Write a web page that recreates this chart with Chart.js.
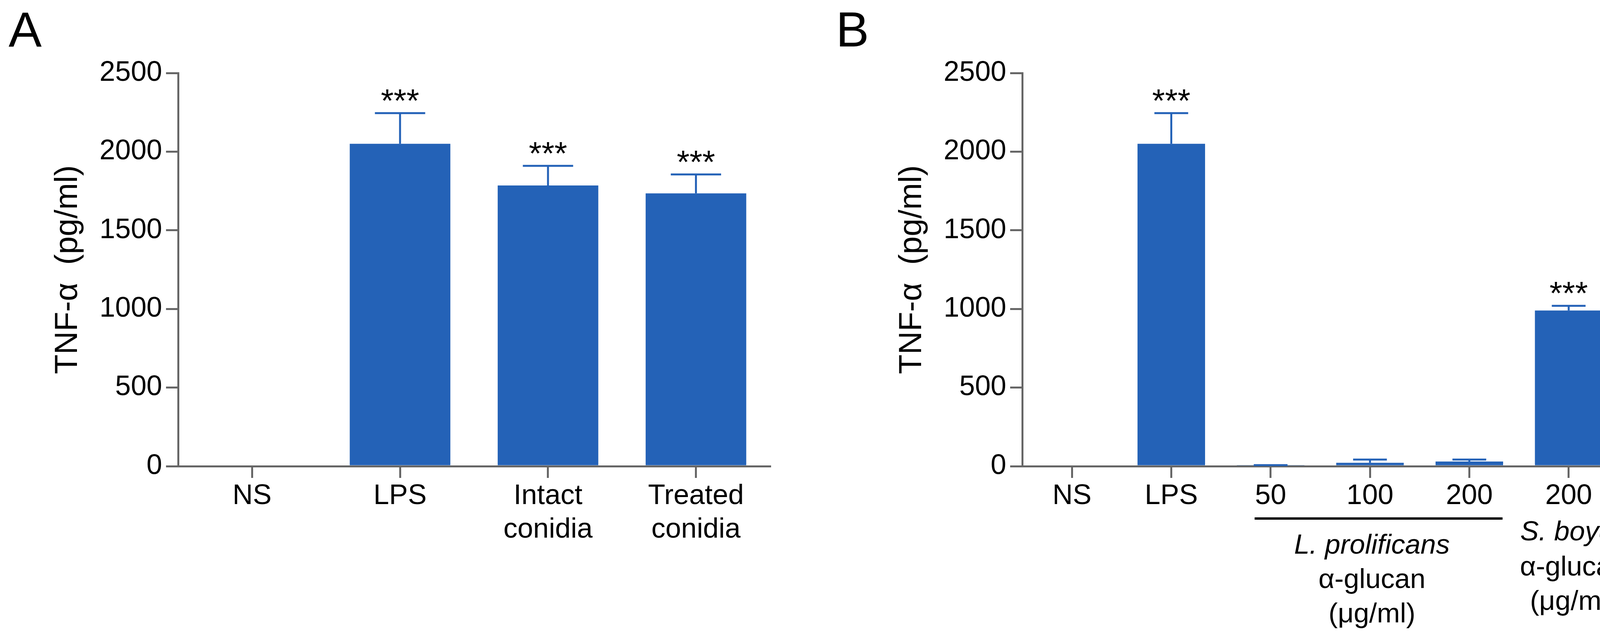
<!DOCTYPE html>
<html>
<head>
<meta charset="utf-8">
<script src="https://cdn.jsdelivr.net/npm/chart.js@4"></script>
<style>
  body { margin: 0; background: #fff; width: 4205px; height: 1634px; position: relative; overflow: hidden; font-family: "Liberation Sans", Arial, sans-serif; }
  canvas { position: absolute; top: 0; }
  .panel { position: absolute; top: 0; font-size: 127px; line-height: 1; }
</style>
</head>
<body>
<div class="panel" style="left:22px; top:12px;">A</div>
<div class="panel" style="left:2140px; top:12px;">B</div>
<canvas id="chartA" width="2100" height="1634" style="left:0"></canvas>
<canvas id="chartB" width="2044" height="1634" style="left:2161px"></canvas>
<script>
// panel A
const catsA = ['NS', 'LPS', ['Intact', 'conidia'], ['Treated', 'conidia']];
const meanA = [0, 2050, 1785, 1735];
const semA = [0, 195, 125, 120];
const starsA = ['', '***', '***', '***'];

// panel B
const catsB = ['NS', 'LPS', '50', '100', '200', '200'];
const meanB = [0, 2050, 5, 22, 30, 990];
const semB = [0, 195, 2, 20, 12, 30];
const starsB = ['', '***', '', '', '', '***'];

const yTicks = [0, 500, 1000, 1500, 2000, 2500];
const blue = '#2462b7';
const axisGrey = '#666666';
const font = '"Liberation Sans", Arial, sans-serif';

// error bars + significance stars
const errorBars = {
    id: 'errorBars',
    afterDatasetsDraw(chart, args, opts) {
        const ctx = chart.ctx;
        const y = chart.scales.y;
        const bars = chart.getDatasetMeta(0).data;
        ctx.save();
        bars.forEach((bar, i) => {
            const top = y.getPixelForValue(opts.mean[i] + opts.sem[i]);
            if (opts.sem[i] > 0) {
                ctx.strokeStyle = blue;
                ctx.lineWidth = 5;
                ctx.beginPath();
                ctx.moveTo(bar.x, bar.y);
                ctx.lineTo(bar.x, top);
                ctx.stroke();
                ctx.beginPath();
                ctx.moveTo(bar.x - bar.width / 4, top);
                ctx.lineTo(bar.x + bar.width / 4, top);
                ctx.stroke();
            }
            if (opts.stars[i]) {
                ctx.fillStyle = '#000';
                ctx.font = '84px ' + font;
                ctx.textAlign = 'center';
                ctx.textBaseline = 'middle';
                ctx.fillText(opts.stars[i], bar.x, top - 26);
            }
        });
        ctx.restore();
    }
};

// bracket and group labels under panel B
const groupLabels = {
    id: 'groupLabels',
    afterDraw(chart) {
        if (chart.canvas.id !== 'chartB') return;
        const ctx = chart.ctx;
        const x = chart.scales.x;
        const b = chart.chartArea.bottom;
        ctx.save();
        ctx.strokeStyle = '#000';
        ctx.lineWidth = 6;
        ctx.beginPath();
        ctx.moveTo(x.getPixelForValue(2) - 41, b + 134);
        ctx.lineTo(x.getPixelForValue(4) + 85, b + 134);
        ctx.stroke();
        ctx.fillStyle = '#000';
        ctx.textAlign = 'center';
        ctx.textBaseline = 'middle';
        const cx1 = x.getPixelForValue(3) + 5;
        ctx.font = 'italic 71px ' + font;
        ctx.fillText('L. prolificans', cx1, b + 204);
        ctx.font = '71px ' + font;
        ctx.fillText('α-glucan', cx1, b + 292);
        ctx.fillText('(μg/ml)', cx1, b + 380);
        const cx2 = x.getPixelForValue(5) + 12;
        ctx.font = 'italic 71px ' + font;
        ctx.fillText('S. boydii', cx2, b + 170);
        ctx.font = '71px ' + font;
        ctx.fillText('α-glucan', cx2, b + 260);
        ctx.fillText('(μg/ml)', cx2, b + 348);
        ctx.restore();
    }
};

function makeChart(id, cats, mean, sem, stars, rightPad) {
    return new Chart(document.getElementById(id), {
        type: 'bar',
        data: {
            labels: cats,
            datasets: [{
                data: mean,
                backgroundColor: blue,
                borderWidth: 0,
                barPercentage: 0.68,
                categoryPercentage: 1
            }]
        },
        options: {
            responsive: false,
            animation: false,
            devicePixelRatio: 1,
            layout: { padding: { top: 187, right: rightPad, left: 0, bottom: 0 } },
            plugins: {
                legend: { display: false },
                tooltip: { enabled: false },
                errorBars: { mean: mean, sem: sem, stars: stars }
            },
            scales: {
                x: {
                    grid: { display: true, drawOnChartArea: false, offset: false, color: axisGrey, lineWidth: 5, tickLength: 30 },
                    border: { display: true, color: axisGrey, width: 5 },
                    ticks: { color: '#000', font: { family: font, size: 72, lineHeight: 1.2 }, maxRotation: 0, autoSkip: false, padding: 4 },
                    afterFit(s) { s.height = 440; }
                },
                y: {
                    min: 0,
                    max: 2500,
                    afterBuildTicks(s) { s.ticks = yTicks.map(v => ({ value: v })); },
                    grid: { display: true, drawOnChartArea: false, color: axisGrey, lineWidth: 5, tickLength: 31 },
                    border: { display: true, color: axisGrey, width: 5 },
                    ticks: { color: '#000', font: { family: font, size: 72 }, padding: 10, callback: v => String(v) },
                    title: { display: true, text: 'TNF-α  (pg/ml)', color: '#000', font: { family: font, size: 82 }, padding: { top: 125, bottom: 0 } },
                    afterFit(s) { s.width = 456; }
                }
            }
        },
        plugins: [errorBars, groupLabels]
    });
}

makeChart('chartA', catsA, meanA, semA, starsA, 129);
makeChart('chartB', catsB, meanB, semB, starsB, 62);
</script>
</body>
</html>
